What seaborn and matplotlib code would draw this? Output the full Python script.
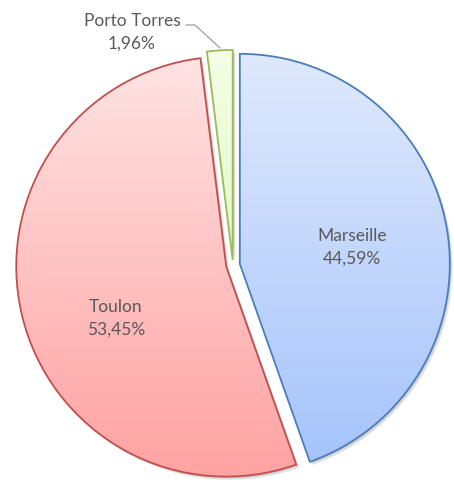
import matplotlib
matplotlib.use("Agg")
import matplotlib.pyplot as plt
import matplotlib.colors as mcolors
from matplotlib.patches import PathPatch
import numpy as np
import seaborn as sns

ports = ["Marseille", "Toulon", "Porto Torres"]
shares = [44.59, 53.45, 1.96]
share_labels = ["44,59%", "53,45%", "1,96%"]

edge_colors = ["#4a7ebb", "#c0504d", "#9bbb59"]
top_colors = ["#dfe9fd", "#ffe3e3", "#f4ffe6"]
bottom_colors = ["#a6c4fb", "#ffa2a2", "#e4f8cc"]

sns.set_theme(style="white")
plt.rcParams['font.family'] = ['Lato', 'DejaVu Sans']

fig = plt.figure(figsize=(4.54, 4.88), dpi=100)
ax = fig.add_axes([0, 0, 1, 1])

# one unit = 210 px, pie centre at (233, 265) px from top-left
CX, CY, R = 233, 265, 210
xlim = (-CX / R, (454 - CX) / R)
ylim = (-(488 - CY) / R, CY / R)


def px(x, y):
    return (x - CX) / R, (CY - y) / R


explode = [0.033, 0.033, 0.024]

# soft shadow
for k in range(4):
    sh, _ = ax.pie(shares, startangle=90, counterclock=False, explode=explode,
                   radius=1.0, center=(0.006 + k * 0.003, -0.008 - k * 0.003),
                   colors=["#000000"] * 3, frame=True)
    for w in sh:
        w.set_alpha(0.05)
        w.set_linewidth(0)
        w.set_zorder(1)

wedges, _ = ax.pie(shares, startangle=90, counterclock=False, explode=explode,
                   radius=1.0, colors=["white"] * 3, frame=True,
                   wedgeprops=dict(linewidth=0))

grad = np.linspace(0, 1, 256).reshape(-1, 1)
for w, ec, c0, c1 in zip(wedges, edge_colors, top_colors, bottom_colors):
    w.set_zorder(2)
    path = w.get_path()
    verts = path.vertices
    x0, x1 = verts[:, 0].min(), verts[:, 0].max()
    y0, y1 = verts[:, 1].min(), verts[:, 1].max()
    cmap = mcolors.LinearSegmentedColormap.from_list("g", [c1, c0])
    im = ax.imshow(grad, cmap=cmap, aspect="auto", origin="lower",
                   extent=(x0, x1, y0, y1), zorder=3, interpolation="bilinear")
    im.set_clip_path(w)
    ax.add_patch(PathPatch(path, fill=False, edgecolor=ec, linewidth=1.3, zorder=4))

ax.set_xlim(*xlim)
ax.set_ylim(*ylim)
ax.set_aspect("equal")
ax.axis("off")

txt = "#595959"
label_pos = [(352, 247), (116, 318), (132, 32)]
for name, lab, (lx, ly) in zip(ports, share_labels, label_pos):
    ax.text(*px(lx, ly), name + "\n" + lab, ha="center", va="center",
            fontsize=12.5, color=txt, zorder=5, linespacing=1.5)

# leader line for the small slice
p = [px(186, 25), px(195, 25), px(220, 48)]
ax.plot([q[0] for q in p], [q[1] for q in p], color="#a6a6a6", linewidth=1.0, zorder=5)

fig.savefig("out.png", dpi=100, facecolor="white")
